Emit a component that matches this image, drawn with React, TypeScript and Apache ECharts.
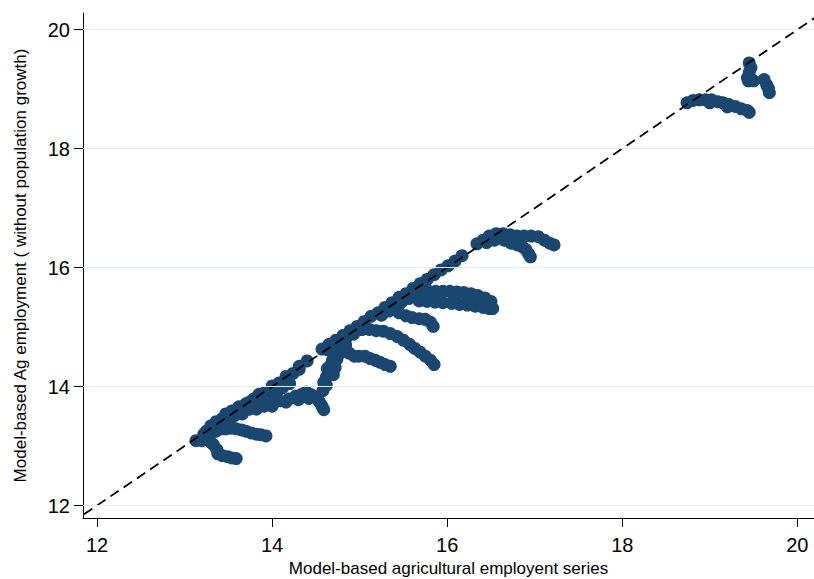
import React, { useEffect, useRef } from "react";
import * as echarts from "echarts";

// Axis ticks and ranges
const xTicks = [12, 14, 16, 18, 20];
const yTicks = [12, 14, 16, 18, 20];
const xRange = [11.84, 20.19];
const yRange = [11.79, 20.28];
const refLineEnds = [11.7, 20.3]; // 45-degree reference line (y = x)

// Points, grouped by visible trail
const diagonalBand: [number, number][] = [
  [13.13, 13.09], [13.2, 13.09], [13.25, 13.25], [13.25, 13.15], [13.31, 13.29], [13.36, 13.41],
  [13.36, 13.3], [13.43, 13.46], [13.43, 13.36], [13.47, 13.54], [13.54, 13.59], [13.54, 13.48],
  [13.62, 13.66], [13.7, 13.71], [13.74, 13.74], [13.79, 13.79], [13.85, 13.84], [13.85, 13.87],
  [13.92, 13.9], [14.0, 13.96], [14.0, 14.01], [14.08, 14.06], [14.16, 14.12], [14.16, 14.17],
  [14.24, 14.22], [14.31, 14.29], [14.31, 14.34], [14.4, 14.43],
  [14.57, 14.63], [14.65, 14.71], [14.73, 14.78], [14.81, 14.86], [14.89, 14.94], [14.97, 15.01],
  [15.05, 15.09], [15.13, 15.18], [15.21, 15.24], [15.29, 15.33], [15.37, 15.41], [15.45, 15.5],
  [15.53, 15.56], [15.61, 15.65], [15.69, 15.73], [15.77, 15.8], [15.85, 15.88], [15.93, 15.96],
  [16.01, 16.03], [16.09, 16.11], [16.17, 16.2],
];

// extra spread that makes parts of the band thick
const diagonalSpread: [number, number][] = [
  [13.22, 13.2], [13.3, 13.34], [13.4, 13.33], [13.47, 13.42], [13.5, 13.47], [13.58, 13.52],
  [13.62, 13.58], [13.67, 13.6], [13.72, 13.66], [13.78, 13.7], [13.88, 13.78], [13.95, 13.83],
  [14.05, 13.9], [14.12, 13.98], [14.2, 14.05], [14.63, 14.62], [14.72, 14.7], [14.84, 14.8],
  [14.93, 14.88], [15.02, 14.96], [15.25, 15.2], [15.33, 15.27], [15.4, 15.33], [15.48, 15.42],
  [15.56, 15.48], [15.66, 15.58], [15.74, 15.66],
];

const branch138: [number, number][] = [
  [13.54, 13.51], [13.66, 13.54], [13.74, 13.62], [13.82, 13.62], [13.91, 13.67], [14.0, 13.67],
  [14.08, 13.76], [14.16, 13.74], [14.19, 13.79], [14.27, 13.84], [14.34, 13.87], [14.39, 13.91],
  [14.45, 13.86], [14.5, 13.82], [14.54, 13.74], [14.57, 13.67], [14.59, 13.61], [14.42, 13.8],
  [14.3, 13.78], [13.96, 13.72],
];

const branch132: [number, number][] = [
  [13.36, 13.25], [13.42, 13.29], [13.47, 13.29], [13.53, 13.3], [13.59, 13.29], [13.65, 13.27],
  [13.7, 13.25], [13.76, 13.22], [13.82, 13.2], [13.87, 13.19], [13.93, 13.17],
];

const branch128: [number, number][] = [
  [13.28, 13.12], [13.33, 13.02], [13.37, 12.94], [13.38, 12.87], [13.43, 12.84], [13.49, 12.82],
  [13.54, 12.8], [13.59, 12.79], [13.3, 13.06],
];

const riseBranch: [number, number][] = [
  [14.58, 13.93], [14.59, 14.07], [14.62, 14.16], [14.65, 14.26], [14.66, 14.34], [14.69, 14.44],
  [14.71, 14.53], [14.73, 14.61], [14.77, 14.69], [14.8, 14.74], [14.74, 14.46], [14.79, 14.59],
  [14.72, 14.32], [14.63, 14.3], [14.68, 14.38], [14.76, 14.54], [14.7, 14.2], [14.84, 14.7],
  [14.62, 14.02],
];

const branch145: [number, number][] = [
  [14.82, 14.63], [14.88, 14.56], [14.94, 14.51], [14.99, 14.51], [15.06, 14.51], [15.12, 14.47],
  [15.18, 14.44], [15.23, 14.41], [15.29, 14.37], [15.35, 14.34],
];

const longArc: [number, number][] = [
  [14.96, 14.96], [15.03, 14.96], [15.11, 14.96], [15.19, 14.94], [15.27, 14.93], [15.35, 14.89],
  [15.43, 14.84], [15.5, 14.78], [15.57, 14.71], [15.63, 14.64], [15.69, 14.58], [15.75, 14.51],
  [15.81, 14.44], [15.85, 14.37],
];

const branch151: [number, number][] = [
  [15.37, 15.29], [15.45, 15.24], [15.53, 15.19], [15.6, 15.16], [15.68, 15.14], [15.75, 15.13],
  [15.81, 15.08], [15.84, 15.01], [15.42, 15.3],
];

const wideBand: [number, number][] = [
  [15.62, 15.58], [15.7, 15.59], [15.79, 15.6], [15.87, 15.6], [15.95, 15.6], [16.03, 15.6],
  [16.11, 15.59], [16.19, 15.58], [16.27, 15.56], [16.35, 15.53], [16.43, 15.49], [16.5, 15.43],
  [15.68, 15.44], [15.77, 15.43], [15.86, 15.42], [15.95, 15.41], [16.05, 15.4], [16.14, 15.38],
  [16.23, 15.37], [16.32, 15.35], [16.41, 15.33], [16.48, 15.31], [16.52, 15.31],
  [15.74, 15.51], [15.91, 15.51], [16.08, 15.5], [16.25, 15.47], [16.39, 15.42],
];

const upperCluster: [number, number][] = [
  [16.34, 16.4], [16.41, 16.46], [16.48, 16.53], [16.56, 16.57], [16.64, 16.57], [16.72, 16.55],
  [16.8, 16.53], [16.88, 16.53], [16.96, 16.53], [17.04, 16.52], [17.11, 16.46], [17.17, 16.41],
  [17.22, 16.38], [16.54, 16.46], [16.65, 16.46], [16.73, 16.41], [16.8, 16.38], [16.86, 16.35],
  [16.9, 16.3], [16.93, 16.23], [16.95, 16.18], [16.45, 16.42],
];

const topRightLow: [number, number][] = [
  [18.74, 18.77], [18.81, 18.81], [18.88, 18.82], [18.95, 18.82], [19.02, 18.82], [19.09, 18.79],
  [19.15, 18.77], [19.22, 18.74], [19.29, 18.71], [19.36, 18.67], [19.43, 18.64], [19.45, 18.61],
  [19.0, 18.77], [19.2, 18.7],
];

const topRightHigh: [number, number][] = [
  [19.45, 19.44], [19.47, 19.36], [19.45, 19.28], [19.43, 19.19], [19.44, 19.14], [19.5, 19.14],
];

const topRightRight: [number, number][] = [
  [19.62, 19.16], [19.65, 19.07], [19.67, 19.01], [19.68, 18.94],
];

const allPoints = [
  ...diagonalBand, ...diagonalSpread, ...branch138, ...branch132, ...branch128, ...riseBranch,
  ...branch145, ...longArc, ...branch151, ...wideBand, ...upperCluster, ...topRightLow,
  ...topRightHigh, ...topRightRight,
];

export default function App() {
  const ref = useRef<HTMLDivElement>(null);
  useEffect(() => {
    if (!ref.current) return;
    const chart = echarts.init(ref.current, null, { renderer: "svg" });
    const font = "'Liberation Sans', Arial, sans-serif";
    chart.setOption({
      animation: false,
      backgroundColor: "#ffffff",
      textStyle: { fontFamily: font },
      grid: { left: 83, right: 0, top: 13, bottom: 61, containLabel: false, outerBoundsMode: "none" },
      xAxis: {
        type: "value",
        min: xRange[0],
        max: xRange[1],
        axisLine: { show: true, onZero: false, lineStyle: { color: "#000", width: 1 } },
        axisTick: { show: true, length: 9, inside: false, customValues: xTicks, lineStyle: { color: "#000", width: 1 } },
        axisLabel: { customValues: xTicks, fontSize: 20, color: "#000", margin: 17, fontFamily: font },
        splitLine: { show: false },
        name: "Model-based agricultural employent series",
        nameLocation: "middle",
        nameGap: 42,
        nameTextStyle: { fontSize: 17, color: "#000", fontFamily: font },
      },
      yAxis: {
        type: "value",
        min: yRange[0],
        max: yRange[1],
        axisLine: { show: true, onZero: false, lineStyle: { color: "#000", width: 1 } },
        axisTick: { show: true, length: 9, inside: false, customValues: yTicks, lineStyle: { color: "#000", width: 1 } },
        axisLabel: { customValues: yTicks, fontSize: 20, color: "#000", margin: 13, fontFamily: font },
        splitLine: { show: false },
        name: "Model-based Ag employment ( without population growth)",
        nameLocation: "middle",
        nameGap: 54,
        nameTextStyle: { fontSize: 17, color: "#000", fontFamily: font },
      },
      series: [
        {
          type: "line",
          data: [],
          silent: true,
          z: 1,
          markLine: {
            silent: true,
            symbol: "none",
            animation: false,
            label: { show: false },
            emphasis: { disabled: true },
            lineStyle: { color: "#e3ecf0", width: 1.2, type: "solid" },
            data: yTicks.map((v) => ({ yAxis: v })),
          },
        },
        {
          type: "scatter",
          data: allPoints,
          symbol: "circle",
          symbolSize: 13,
          itemStyle: { color: "#1a476f", opacity: 1 },
          z: 3,
        },
        {
          type: "line",
          data: refLineEnds.map((v) => [v, v]),
          symbol: "none",
          silent: true,
          lineStyle: { color: "#000", width: 1.8, type: [10, 6] },
          z: 4,
        },
      ],
    });
    return () => chart.dispose();
  }, []);
  return <div ref={ref} style={{ position: "fixed", left: 0, top: 0, width: 814, height: 579 }} />;
}
